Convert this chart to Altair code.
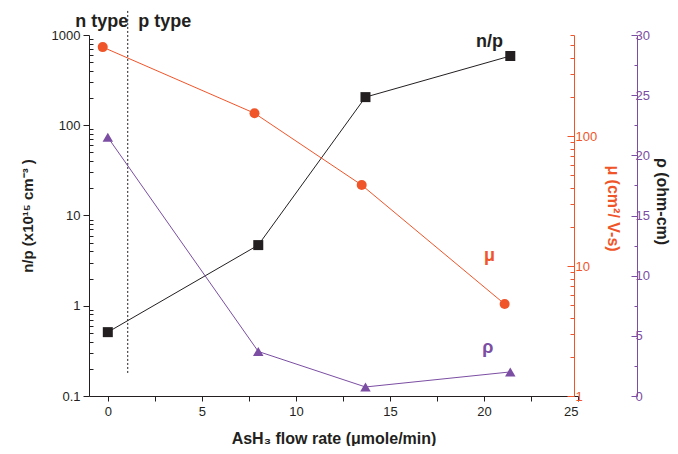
import altair as alt
import pandas as pd

# ---- data ----
x_np = [0.0, 8.0, 13.7, 21.4]
np_vals = [0.51, 4.7, 205, 585]
x_mu = [-0.27, 7.8, 13.5, 21.1]
mu_vals = [484, 150, 42, 5.1]
x_rho = [0.0, 8.0, 13.7, 21.4]
rho_vals = [21.5, 3.7, 0.75, 2.0]

x_ticks = [0, 2.5, 5, 7.5, 10, 12.5, 15, 17.5, 20, 22.5, 25]
left_ticks = [m * d for d in [0.1, 1, 10, 100] for m in range(1, 10)] + [1000]
mu_ticks = [m * d for d in [1, 10, 100] for m in range(1, 10) if m * d <= 600]
rho_ticks = [0, 2.5, 5, 7.5, 10, 12.5, 15, 17.5, 20, 22.5, 25, 27.5, 30]

labels_text = ["n/p", "μ", "ρ", "n type", "p type"]
labels_x = [20.3, 20.3, 20.2, -0.32, 3.03]
labels_y = [835, 3.6, 0.34, 1400, 1400]

divider_x = [1.06]
divider_y = [0.18]
divider_y2 = [1900]

BLACK = "#231f20"
ORANGE = "#f0552a"
PURPLE = "#7b4ea3"
FONT = "Liberation Sans"

DEC = "abs(log(datum.value)/LN10 - round(log(datum.value)/LN10)) < 0.001"

df_np = pd.DataFrame({"x": x_np, "v": np_vals})
df_mu = pd.DataFrame({"x": x_mu, "v": mu_vals})
df_rho = pd.DataFrame({"x": x_rho, "v": rho_vals})
df_lab = pd.DataFrame({"x": labels_x, "v": labels_y, "t": labels_text})
df_div = pd.DataFrame({"x": divider_x, "v": divider_y, "v2": divider_y2})

xscale = alt.Scale(domain=[-1, 25], nice=False, zero=False)
xaxis = alt.Axis(
    values=x_ticks, format="~g",
    labelExpr="datum.value % 5 == 0 ? datum.label : ''",
    tickSize=5, grid=False, domainColor=BLACK, tickColor=BLACK,
    labelColor=BLACK, labelFontSize=13, labelFont=FONT, labelPadding=4,
    title="AsH₃ flow rate (μmole/min)", titleFont=FONT, titleFontSize=16,
    titleFontWeight="bold", titleColor=BLACK, titlePadding=12,
)
X = alt.X("x:Q", scale=xscale, axis=xaxis)

left_scale = alt.Scale(type="log", domain=[0.1, 1000], nice=False)
left_axis = alt.Axis(
    values=left_ticks, format="~g",
    labelExpr=f"({DEC}) ? format(datum.value, '~g') : ''",
    tickSize={"condition": {"test": DEC, "value": 6}, "value": -4},
    grid=False, domainColor=BLACK, tickColor=BLACK, labelColor=BLACK,
    labelFontSize=13, labelFont=FONT, labelPadding=3,
    title="n/p (x10¹⁵ cm⁻³ )", titleFont=FONT, titleFontSize=15,
    titleFontWeight="bold", titleColor=BLACK, titlePadding=16,
)
LY = alt.Y("v:Q", scale=left_scale, axis=left_axis)

np_line = alt.Chart(df_np).mark_line(color=BLACK, strokeWidth=1).encode(x=X, y=LY)
np_pts = alt.Chart(df_np).mark_point(shape="square", filled=True, size=100,
                                     color=BLACK, opacity=1).encode(x=X, y=LY)
divider = alt.Chart(df_div).mark_rule(color=BLACK, strokeDash=[2, 2],
                                      strokeWidth=1).encode(x=X, y=LY, y2="v2:Q")
labels = alt.Chart(df_lab).mark_text(font=FONT, fontWeight="bold",
                                     baseline="middle", align="center").encode(
    x=X, y=LY,
    text="t:N",
    color=alt.Color("t:N", scale=alt.Scale(
        domain=labels_text, range=[BLACK, ORANGE, PURPLE, BLACK, BLACK]), legend=None),
    size=alt.Size("t:N", scale=alt.Scale(
        domain=labels_text, range=[18, 18, 19, 16, 16]), legend=None),
)
left_layer = alt.layer(np_line, np_pts, divider, labels)

mu_scale = alt.Scale(type="log", domain=[1, 600], nice=False)
mu_axis = alt.Axis(
    orient="right", offset=-4, values=mu_ticks, format="~g",
    labelExpr=f"({DEC}) ? format(datum.value, '~g') : ''",
    tickSize={"condition": {"test": DEC, "value": -7}, "value": -4},
    grid=False, domainColor=ORANGE, tickColor=ORANGE, labelColor=ORANGE,
    labelFontSize=13, labelFont=FONT, labelPadding=8,
    title="μ (cm²/ V-s)", titleFont=FONT, titleFontSize=16,
    titleFontWeight="bold", titleColor=ORANGE, titlePadding=8, titleY=173,
)
mu_Y = alt.Y("v:Q", scale=mu_scale, axis=mu_axis)
mu_layer = alt.layer(
    alt.Chart(df_mu).mark_line(color=ORANGE, strokeWidth=1).encode(x=X, y=mu_Y),
    alt.Chart(df_mu).mark_point(shape="circle", filled=True, size=100,
                                color=ORANGE, opacity=1).encode(x=X, y=mu_Y),
)

rho_scale = alt.Scale(domain=[0, 30], nice=False, zero=True)
rho_axis = alt.Axis(
    orient="right", offset=59, values=rho_ticks, format="~g",
    labelExpr="datum.value % 5 == 0 ? datum.label : ''",
    tickSize={"condition": {"test": "datum.value % 5 == 0", "value": -6}, "value": -3},
    grid=False, domainColor=PURPLE, tickColor=PURPLE, labelColor=PURPLE,
    labelFontSize=13, labelFont=FONT, labelPadding=4,
    title="ρ (ohm-cm)", titleFont=FONT, titleFontSize=16,
    titleFontWeight="bold", titleColor=BLACK, titlePadding=4, titleY=166,
)
rho_Y = alt.Y("v:Q", scale=rho_scale, axis=rho_axis)
rho_layer = alt.layer(
    alt.Chart(df_rho).mark_line(color=PURPLE, strokeWidth=1).encode(x=X, y=rho_Y),
    alt.Chart(df_rho).mark_point(shape="triangle-up", filled=True, size=110,
                                 color=PURPLE, opacity=1).encode(x=X, y=rho_Y),
)

chart = alt.layer(left_layer, mu_layer, rho_layer).resolve_scale(
    y="independent"
).properties(
    width=489, height=361,
    background="white",
    autosize=alt.AutoSizeParams(type="none"),
    padding={"left": 81, "top": 27, "right": 92, "bottom": 50},
).configure_view(stroke=None)

chart.save("out.html", embed_options={"renderer": "svg", "actions": False})
